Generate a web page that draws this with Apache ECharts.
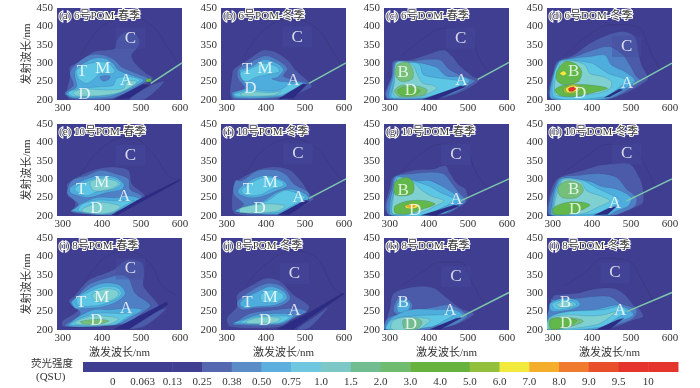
<!DOCTYPE html>
<html><head><meta charset="utf-8">
<style>html,body{margin:0;padding:0;background:#fff}#c{width:700px;height:388px}</style>
<script src="https://cdn.jsdelivr.net/npm/echarts@6/dist/echarts.min.js"></script>
</head><body><div id="c"></div>
<script>
// colour scale
const qsuTicks=['0','0.063','0.13','0.25','0.38','0.50','0.75','1.0','1.5','2.0','3.0','4.0','5.0','6.0','7.0','8.0','9.0','9.5','10'];
const levelColors=['#403e91','#403e91','#403e91','#413f92','#5567ae','#5a8dc8','#5db0de','#6ec6df','#7dc8c6','#71bd91','#6fbb70','#67b23e','#67b23e','#93c03c','#f1e93b','#f5ae2b','#f07a2e','#ea4f2c','#e5342c','#e5342c'];
const panelColors=['#403e91','#403e91','#403e91','#403e91','#4c5aaa','#4f80c6','#4fadde','#5cc6e4','#7fd0d0','#71bd91','#74c07a','#62b84a','#62b84a','#93c03c','#f1e93b','#f5ae2b','#f07a2e','#ea4f2c','#e5342c','#e5342c'];
const belowZero='#2c2b85';
const panelTitles=['(a) 6号POM-春季','(b) 6号POM-冬季','(c) 6号DOM-春季','(d) 6号DOM-冬季','(e) 10号POM-春季','(f) 10号POM-冬季','(g) 10号DOM-春季','(h) 10号DOM-冬季','(i) 8号POM-春季','(j) 8号POM-冬季','(k) 8号DOM-春季','(l) 8号DOM-冬季'];
const xTicks=[300,400,500,600];

// contour outlines per panel: [level, ex,em, ex,em, ...] (excitation nm, emission nm)
const contoursA=[
[4,438,363,459,384,485,381,497,358,489,340,476,322,485,299,514,272,531,259,506,240,467,218,429,202,318,202,310,222,318,263,318,290,352,308,378,331,412,336,433,340],
[4,470,202,510,202,560,250,525,240],
[5,331,295,369,322,403,322,433,308,450,290,489,272,519,257,497,240,459,218,420,204,327,204,305,218,327,240,318,272],
[6,331,281,352,299,378,313,408,313,429,299,442,281,480,266,506,254,489,240,450,220,412,209,327,206,310,218,335,236,331,263],
[7,335,281,356,295,382,302,412,302,433,281,429,272,395,272,382,259,361,245,339,259],
[7,438,259,472,263,497,254,480,240,450,222,412,213,327,209,314,221,344,231,395,236,429,240],
[5,395,263,420,266,419,257,403,251],
[8,327,221,352,230,412,227,455,231,463,250,489,251,484,242,446,221,408,213,335,211],
[11,512,255,525,258,527,251,514,249],
[-1,430,202,470,205,520,240,505,243]];
const contoursB=[
[4,392,335,425,330,459,305,475,282,509,250,517,236,484,218,450,200,317,200,308,218,313,263,317,283,358,312],
[5,330,285,365,305,400,320,435,305,455,285,445,265,470,255,505,245,480,225,445,208,320,204,312,220,345,232,328,260],
[6,333,280,365,292,395,310,428,300,445,282,430,262,415,258,440,250,480,248,498,244,475,228,440,210,325,206,316,218,355,235,340,255],
[7,335,275,360,285,395,300,425,292,435,278,420,272,400,268,375,262,350,250,338,258],
[7,330,220,360,228,420,224,445,232,460,243,490,240,470,228,435,212,330,209,318,215],
[8,335,218,370,222,420,220,440,225,420,213,340,211],
[-1,430,202,470,205,505,242,495,244]];
const contoursC=[
[4,308,305,352,309,395,323,438,336,460,318,477,295,512,264,529,255,516,241,473,218,412,202,295,202,287,218,304,264],
[5,312,303,352,305,395,310,430,308,450,285,475,270,505,258,518,252,500,238,465,218,400,203,295,203,290,218,305,262],
[6,315,302,345,305,390,298,420,288,445,265,490,262,505,252,490,238,460,220,395,205,300,205,298,220,308,262],
[7,318,298,345,302,375,298,385,270,410,262,440,258,480,252,490,246,460,228,410,212,385,206,305,206,305,225,315,250],
[8,316,300,345,303,362,290,372,265,385,245,410,240,420,232,400,218,370,208,318,208,308,222,312,250],
[10,318,295,345,302,358,285,358,258,330,250,315,265],
[10,312,225,330,240,370,238,395,228,390,215,360,209,325,209],
[11,320,225,335,235,365,232,378,225,360,212,330,212],
[-1,385,202,420,202,495,237,480,238]];
const contoursD=[
[4,310,304,352,322,395,354,438,376,480,386,510,372,519,331,527,295,544,259,531,245,497,224,438,202,297,202,288,222,301,277],
[5,314,304,357,318,403,336,446,345,480,322,497,295,514,263,523,254,497,231,442,202,297,202,293,232,305,286],
[6,318,306,352,313,395,318,433,322,450,295,484,277,510,254,493,236,438,204,297,204,297,250,310,286],
[7,318,304,352,308,378,304,403,299,442,272,489,254,472,236,433,209,305,206,301,259],
[8,322,302,352,306,382,295,395,272,429,263,450,250,446,231,412,218,310,212,305,250,314,281],
[11,310,277,331,304,357,299,374,277,365,250,327,242,310,254],
[11,305,227,327,240,378,242,429,236,440,231,408,221,352,209,318,212],
[14,318,272,328,279,335,272,327,266],
[13,327,231,352,244,374,233,357,218,331,218],
[14,333,231,352,240,365,231,352,221,337,221],
[18,340,231,352,236,359,231,352,224,342,224],
[-1,432,207,445,208,480,228,470,230]];
const contoursE=[
[4,353,314,387,328,430,333,468,324,477,287,507,260,511,246,481,232,439,209,323,209,332,232,315,264,311,287],
[5,362,310,396,324,434,315,468,301,472,273,502,255,498,241,464,225,434,203,320,212,340,232,311,260,323,296],
[6,319,278,362,301,396,310,434,306,456,287,452,273,413,264,366,250,340,255,319,264],
[7,332,278,366,296,396,305,434,301,449,287,430,273,396,269,362,255,345,260,332,269],
[8,370,292,396,301,434,296,443,287,422,273,379,269],
[6,345,232,387,250,439,250,468,255,498,246,481,232,439,214,400,203,323,214,332,221],
[7,349,232,387,243,434,241,464,241,481,241,456,227,430,209,396,205,340,214],
[8,353,221,396,237,434,232,447,225,430,212,396,206,349,212],
[-1,425,203,440,203,500,238,600,296,600,300,490,243]];
const contoursF=[
[4,334,301,386,328,428,333,462,324,492,292,509,264,522,246,471,214,433,200,322,205,313,223,317,278],
[5,339,296,381,324,428,324,454,310,471,287,509,264,509,246,462,218,428,203,322,212,343,232,317,260,322,296],
[6,330,273,369,301,403,310,445,296,454,282,428,269,386,252,356,250,330,261],
[7,339,273,372,296,403,306,441,294,445,282,415,273,386,258,356,255,339,263],
[6,343,225,394,241,428,264,466,273,501,260,509,246,462,221,428,205,322,212],
[7,356,225,403,241,445,269,475,264,501,250,462,225,428,209,334,212],
[8,334,221,386,232,428,232,450,227,424,212,334,209],
[-1,430,203,460,204,512,240,500,243]];
const contoursG=[
[4,308,305,360,324,412,328,442,337,455,314,473,287,494,273,498,241,473,221,447,206,300,202,287,223,300,278],
[5,313,307,360,315,403,319,438,314,460,287,477,264,494,241,473,223,447,209,300,202,291,228,304,273],
[6,317,307,369,296,403,296,438,278,473,255,486,241,464,225,438,206,304,202,300,232,308,273],
[7,322,305,365,294,399,282,429,264,464,246,451,232,425,218,399,202,308,205,304,232,313,273],
[8,322,303,360,292,378,273,404,255,438,241,412,225,386,212,308,206,308,241,313,273],
[11,313,291,343,305,360,291,360,264,339,255,313,259],
[11,313,227,347,241,395,241,416,232,382,218,343,205,313,209],
[14,339,227,360,234,373,227,365,221,343,221],
[15,343,227,356,232,365,227,352,223],
[-1,380,202,420,202,478,227,465,230]];
const contoursH=[
[4,315,304,378,324,417,337,455,342,497,342,523,301,531,273,531,237,514,225,480,209,455,202,293,202,285,218,298,278],
[5,319,304,370,311,421,315,463,305,489,273,514,250,510,227,476,209,455,202,293,202,289,227,302,273],
[6,323,302,395,294,425,280,463,273,501,250,493,227,463,214,442,202,298,202,298,232,306,273],
[7,327,302,378,296,412,276,455,255,472,241,455,227,429,209,302,205,302,236,310,273],
[8,327,299,370,294,387,268,421,255,446,241,417,225,378,207,306,207,306,241,315,273],
[10,315,282,340,296,370,287,378,269,361,250,327,249,315,260],
[11,302,223,336,237,378,237,395,230,374,216,344,205,302,205],
[-1,405,202,440,204,462,225,448,224]];
const contoursI=[
[4,332,295,366,336,430,364,464,391,503,382,508,350,507,318,545,268,541,255,481,232,456,214,302,209,298,223,340,255,315,277],
[4,460,205,550,255,567,259,507,209],
[5,336,291,366,323,413,341,447,350,468,341,485,300,524,268,507,250,460,218,306,211,345,245,319,273],
[6,323,277,366,311,404,327,443,323,460,300,438,277,396,262,353,259,332,259],
[7,336,286,370,305,404,318,438,316,451,300,434,282,396,268,353,264,338,268],
[8,375,295,404,311,434,309,443,298,426,282,387,277],
[6,340,236,379,255,421,255,464,259,503,255,473,235,434,214,315,211],
[7,345,232,387,245,447,245,481,245,460,232,430,214,319,214],
[8,336,225,379,238,430,235,443,229,413,214,332,216],
[10,345,223,387,229,417,225,396,216,353,216],
[-1,430,202,470,203,570,270,565,276]];
const contoursJ=[
[4,326,295,373,327,403,341,437,332,471,295,509,268,509,255,471,232,437,209,309,209,300,232,326,264],
[5,330,282,377,316,407,327,441,318,463,286,437,265,369,259,339,255,326,268],
[6,339,282,381,305,411,318,445,305,454,286,424,268,377,264,347,259,334,268],
[7,386,295,411,309,441,300,445,286,420,275,390,277],
[5,330,227,360,245,428,255,475,259,505,250,471,232,437,214,317,214],
[6,343,229,377,241,445,245,471,238,437,218,317,218],
[7,360,232,394,238,445,238,462,235,432,218,334,220],
[8,351,225,394,235,437,232,424,220,351,218],
[4,480,202,530,240,560,262,510,205],
[-1,428,202,470,202,600,298,598,301,510,247]];
const contoursK=[
[4,310,300,369,318,412,314,447,286,481,259,516,245,507,235,477,218,421,202,287,202,292,230,300,260],
[5,312,270,325,290,345,285,358,268,350,250,320,243,310,250],
[5,295,232,352,250,412,262,455,268,494,245,499,238,473,218,412,202,287,202],
[6,318,270,330,283,345,278,352,268,345,252,322,248],
[6,304,232,352,255,421,255,464,255,486,241,464,225,429,214,291,202],
[7,304,227,360,238,416,241,464,241,442,227,408,209,291,202],
[8,308,225,339,235,391,232,404,227,391,214,373,202,304,202],
[9,334,227,365,232,382,223,373,205,339,202],
[-1,403,202,430,202,484,233,470,232]];
const contoursL=[
[4,306,295,361,300,395,309,429,314,463,311,489,291,506,268,523,255,531,236,506,227,463,209,412,202,285,202,285,227,293,264,298,286],
[5,293,282,361,286,403,291,446,291,472,273,514,255,506,232,463,214,416,202,285,202,289,255,298,286],
[6,293,273,327,286,361,282,370,268,344,255,302,250,293,255],
[7,298,271,327,282,353,277,361,268,340,259,306,256],
[8,310,271,332,277,349,273,353,265,332,262,315,262],
[6,289,232,336,250,404,255,463,268,489,259,506,241,472,223,438,205,285,202],
[7,293,235,344,250,429,255,472,264,489,250,463,232,429,209,285,202],
[8,293,232,336,241,395,238,429,241,463,250,446,235,412,214,285,202],
[10,293,229,327,235,370,229,378,223,344,209,293,202],
[11,293,227,327,232,361,227,349,214,298,202],
[-1,412,202,445,202,482,232,466,228]];
const allContours=[contoursA,contoursB,contoursC,contoursD,contoursE,contoursF,contoursG,contoursH,contoursI,contoursJ,contoursK,contoursL];

// faint outer contour line per panel
const outerLines=[
[[345,320],[400,400],[470,425],[530,400],[570,340],[595,300]],
[[345,320],[400,395],[470,420],[530,395],[570,335],[590,300]],
[[330,320],[390,370],[440,395],[500,385],[530,310],[560,270]],
[[330,320],[390,375],[450,405],[515,400],[550,330],[575,280]],
[[345,310],[400,385],[470,415],[530,370],[570,310],[595,298]],
[[345,310],[400,385],[470,410],[530,385],[570,330],[595,298]],
[[330,320],[380,370],[430,395],[490,385],[520,320],[555,270]],
[[330,320],[390,365],[440,395],[490,395],[530,350],[560,280]],
[[350,320],[400,390],[460,415],[520,385],[555,320],[590,295]],
[[350,320],[400,380],[470,415],[530,395],[570,320],[595,298]],
[[330,320],[380,355],[430,385],[480,385],[510,330],[540,270]],
[[330,320],[380,355],[430,395],[490,390],[530,330],[560,270]]];

// Rayleigh scatter streak per panel (empty where absent)
const streaks=[
[[525,245],[605,301]],[[510,245],[605,301]],[[525,256],[605,302]],[[505,242],[605,300]],
[],[[510,248],[605,301]],[[481,241],[605,301]],[[489,241],[605,301]],
[],[],[[481,235],[605,302]],[[489,250],[605,302]]];

// peak letters [ex, em, letter]
const peakLetters=[
[[473,368,'C'],[349,277,'T'],[402,286,'M'],[462,253,'A'],[355,215,'D']],
[[480,371,'C'],[352,282,'T'],[398,286,'M'],[470,252,'A'],[360,230,'D']],
[[481,368,'C'],[334,275,'B'],[354,225,'D'],[483,252,'A']],
[[489,345,'C'],[353,277,'B'],[370,218,'D'],[490,245,'A']],
[[473,365,'C'],[347,271,'T'],[400,290,'M'],[457,252,'A'],[386,220,'D']],
[[482,369,'C'],[354,271,'T'],[411,290,'M'],[484,250,'A'],[384,220,'D']],
[[469,367,'C'],[334,270,'B'],[365,216,'D'],[470,246,'A']],
[[489,369,'C'],[353,273,'B'],[357,217,'D'],[459,235,'A']],
[[473,366,'C'],[347,275,'T'],[400,288,'M'],[462,257,'A'],[386,225,'D']],
[[473,353,'C'],[353,275,'T'],[411,288,'M'],[473,252,'A'],[398,225,'D']],
[[469,345,'C'],[334,275,'B'],[354,214,'D'],[454,252,'A']],
[[459,355,'C'],[332,275,'B'],[334,218,'D'],[472,252,'A']]];

const SERIF="'Liberation Serif','Noto Sans CJK SC',serif";
const lefts=[57,221,384,547], tops=[8,124,238], pw=125, ph=92;
const grid=[],xAxis=[],yAxis=[],series=[],title=[];
const nameStyle={fontFamily:SERIF,fontSize:11,color:'#333'};

allContours.forEach((contours,p)=>{
  const col=p%4,row=Math.floor(p/4);
  grid.push({left:lefts[col],top:tops[row],width:pw,height:ph,show:true,backgroundColor:panelColors[3],borderWidth:0});
  xAxis.push({type:'value',gridIndex:p,min:285,max:605,splitLine:{show:false},axisLine:{show:false},axisTick:{show:false},
    axisLabel:{customValues:xTicks,fontFamily:SERIF,fontSize:11,color:'#333',margin:3},
    name:row===2?'激发波长/nm':'',nameLocation:'middle',nameGap:18,nameTextStyle:nameStyle});
  yAxis.push({type:'value',gridIndex:p,min:200,max:450,interval:50,splitLine:{show:false},axisLine:{show:false},axisTick:{show:false},
    axisLabel:{fontFamily:SERIF,fontSize:11,color:'#333',margin:4},
    name:col===0?'发射波长/nm':'',nameLocation:'middle',nameGap:21,nameRotate:90,nameTextStyle:nameStyle});
  series.push({type:'custom',xAxisIndex:p,yAxisIndex:p,coordinateSystem:'cartesian2d',clip:true,silent:true,z:2,
    data:contours.map((c,i)=>[i]),
    renderItem:(params,api)=>{
      const c=contours[params.dataIndex],pts=[];
      for(let i=1;i<c.length;i+=2)pts.push(api.coord([c[i],c[i+1]]));
      return {type:'polygon',shape:{points:pts,smooth:c[0]<0?0:0.3},
        style:{fill:c[0]<0?belowZero:panelColors[c[0]],stroke:'rgba(45,55,95,0.28)',lineWidth:0.6}};
    }});
  series.push({type:'line',xAxisIndex:p,yAxisIndex:p,data:outerLines[p],smooth:0.4,symbol:'none',silent:true,z:3,
    lineStyle:{color:'rgba(45,45,90,0.4)',width:0.7}});
  if(streaks[p].length)series.push({type:'line',xAxisIndex:p,yAxisIndex:p,data:streaks[p],symbol:'none',silent:true,z:4,
    lineStyle:{color:'#7cc8ac',width:1.5}});
  series.push({type:'scatter',xAxisIndex:p,yAxisIndex:p,symbolSize:1,silent:true,z:6,itemStyle:{color:'transparent'},
    data:peakLetters[p].map(d=>({value:[d[0],d[1]],name:d[2],
      label:d[2]==='C'?{backgroundColor:'rgba(70,74,158,0.5)',padding:[3,9,1,9]}:{}})),
    label:{show:true,position:'inside',formatter:'{b}',color:'#fff',fontFamily:SERIF,fontSize:17}});
  title.push({text:panelTitles[p],left:lefts[col]+2,top:tops[row]+3,padding:0,
    textStyle:{fontFamily:SERIF,fontSize:11,fontWeight:'normal',color:'#3a3a3a',textBorderColor:'#fff',textBorderWidth:2}});
});

// colour bar
const barIndex=allContours.length;
grid.push({left:83,top:362,width:595,height:10});
xAxis.push({type:'value',gridIndex:barIndex,min:0,max:20,splitLine:{show:false},axisLine:{show:false},axisTick:{show:false},
  axisLabel:{customValues:qsuTicks.map((t,i)=>i+1),formatter:v=>qsuTicks[v-1],fontFamily:SERIF,fontSize:11,color:'#333',margin:5}});
yAxis.push({type:'value',gridIndex:barIndex,min:0,max:1,show:false});
series.push({type:'custom',xAxisIndex:barIndex,yAxisIndex:barIndex,silent:true,
  data:levelColors.map((c,i)=>[i]),
  renderItem:(params,api)=>{
    const i=api.value(0),a=api.coord([i,1]),b=api.coord([i+1,0]);
    return {type:'rect',shape:{x:a[0],y:a[1],width:b[0]-a[0]+0.5,height:b[1]-a[1]},style:{fill:levelColors[i]}};
  }});
title.push({text:'荧光强度',left:31,top:359,padding:0,textStyle:{fontFamily:SERIF,fontSize:10.5,fontWeight:'normal',color:'#333'}});
title.push({text:'(QSU)',left:36,top:372,padding:0,textStyle:{fontFamily:SERIF,fontSize:11,fontWeight:'normal',color:'#333'}});

echarts.init(document.getElementById('c'),null,{renderer:'canvas'}).setOption({animation:false,backgroundColor:'#fff',title,grid,xAxis,yAxis,series});
</script></body></html>
